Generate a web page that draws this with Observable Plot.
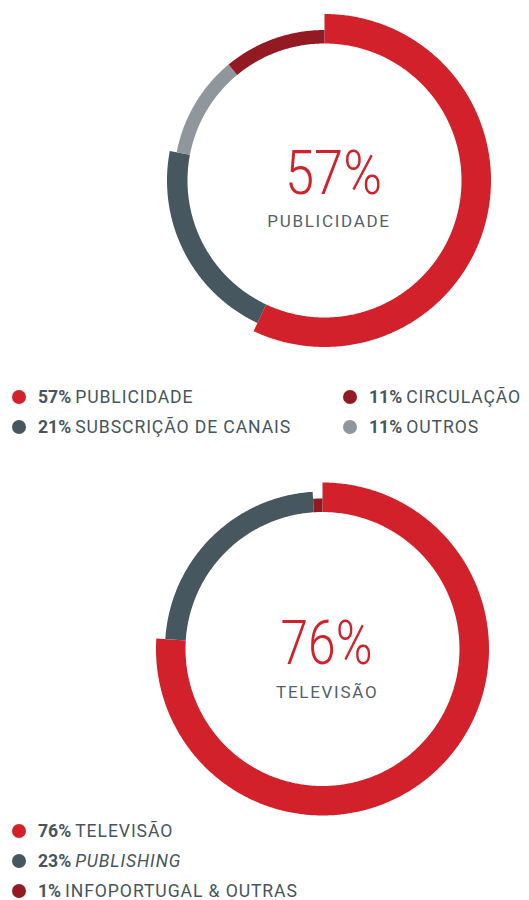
<!DOCTYPE html>
<html><head><meta charset="utf-8">
<script src="https://cdn.jsdelivr.net/npm/d3@7"></script>
<script src="https://cdn.jsdelivr.net/npm/@observablehq/plot@0.6"></script>
<style>
html,body{margin:0;padding:0;background:#fff;}
#root{position:relative;width:529px;height:900px;overflow:hidden;font-family:Roboto,"Noto Sans",sans-serif;}
.chart{position:absolute;left:0;}
.item{position:absolute;display:flex;align-items:center;white-space:nowrap;height:20px;color:#47555d;font-size:17.6px;}
.dot{width:14px;height:14px;border-radius:50%;margin-right:12px;flex:none;}
.item b{font-weight:700;margin-right:4px;}
.item .lbl{letter-spacing:0.9px;}
</style></head><body><div id="root"></div>
<script>
// ---- data ----
const chart1Labels = ["PUBLICIDADE", "SUBSCRIÇÃO DE CANAIS", "OUTROS", "CIRCULAÇÃO"];
const chart1Values = [57, 21, 11, 11];
const chart1Colors = ["#d2212b", "#47575f", "#8f979c", "#931a23"];
const chart1CenterValue = "57%";
const chart1CenterLabel = "PUBLICIDADE";
const legend1Order = ["PUBLICIDADE", "SUBSCRIÇÃO DE CANAIS", "CIRCULAÇÃO", "OUTROS"];

const chart2Labels = ["TELEVISÃO", "PUBLISHING", "INFOPORTUGAL & OUTRAS"];
const chart2Values = [76, 23, 1];
const chart2Colors = ["#d2212b", "#47575f", "#931a23"];
const chart2CenterValue = "76%";
const chart2CenterLabel = "TELEVISÃO";
const legend2Order = ["TELEVISÃO", "PUBLISHING", "INFOPORTUGAL & OUTRAS"];
const italicLabels = ["PUBLISHING"];

// ---- drawing ----
const R_IN = 137;
const R_OUT_TIERS = [166.5, 157.5, 150.5, 150.5];

function ringPoints(labels, values) {
  const total = d3.sum(values);
  const ranked = d3.range(values.length).sort((a, b) => values[b] - values[a]);
  const rank = new Map(ranked.map((i, r) => [i, r]));
  let acc = 0;
  const pts = [];
  labels.forEach((label, i) => {
    const a0 = acc / total * 2 * Math.PI;
    acc += values[i];
    const a1 = acc / total * 2 * Math.PI;
    const n = Math.max(2, Math.ceil((a1 - a0) / (Math.PI / 360)));
    const rOut = R_OUT_TIERS[Math.min(rank.get(i), R_OUT_TIERS.length - 1)];
    for (let k = 0; k <= n; k++) {
      const a = a0 + (a1 - a0) * k / n;
      pts.push({label, xi: Math.sin(a) * R_IN, yi: Math.cos(a) * R_IN, xo: Math.sin(a) * rOut, yo: Math.cos(a) * rOut});
    }
  });
  return pts;
}

function donut({labels, values, colors, centerValue, centerLabel, cx, cy, height, valueDx, labelDx, valueY, labelY, valueLen}) {
  const W = 529;
  const svg = Plot.plot({
    width: W, height,
    margin: 0, marginTop: 0, marginRight: 0, marginBottom: 0, marginLeft: 0,
    x: {domain: [-cx, W - cx], axis: null},
    y: {domain: [-(height - cy), cy], axis: null},
    color: {domain: labels, range: colors},
    style: {background: "transparent"},
    marks: [
      Plot.area(ringPoints(labels, values), {x1: "xi", y1: "yi", x2: "xo", y2: "yo", z: "label", fill: "label", curve: "linear"}),
      Plot.text([centerValue], {x: () => valueDx, y: () => valueY, text: d => d, fill: "#d2212b", fontSize: 62, fontWeight: 300, lineAnchor: "bottom", fontFamily: "Roboto"}),
      Plot.text([centerLabel], {x: () => labelDx, y: () => labelY, text: d => d, fill: "#53616a", fontSize: 17, fontWeight: 400, lineAnchor: "bottom", fontFamily: "Roboto"})
    ]
  });
  svg.querySelectorAll("text").forEach(t => {
    if (t.textContent === centerValue) { t.setAttribute("textLength", valueLen); t.setAttribute("lengthAdjust", "spacingAndGlyphs"); }
    if (t.textContent === centerLabel) { t.style.letterSpacing = "1.7px"; }
  });
  return svg;
}

const root = document.getElementById("root");

const s1 = donut({labels: chart1Labels, values: chart1Values, colors: chart1Colors,
  centerValue: chart1CenterValue, centerLabel: chart1CenterLabel,
  cx: 324.5, cy: 180.5, height: 365, valueDx: 8.5, labelDx: 4, valueY: -12.8, labelY: -46, valueLen: 97});
s1.classList.add("chart"); s1.style.top = "0px";
root.appendChild(s1);

const s2 = donut({labels: chart2Labels, values: chart2Values, colors: chart2Colors,
  centerValue: chart2CenterValue, centerLabel: chart2CenterLabel,
  cx: 322.5, cy: 184, height: 355, valueDx: 3.5, labelDx: 4.2, valueY: -14.3, labelY: -48.3, valueLen: 92});
s2.classList.add("chart"); s2.style.top = "465px";
root.appendChild(s2);

function legendItem(label, value, color, left, cyPx) {
  const el = document.createElement("div");
  el.className = "item";
  el.style.left = left + "px";
  el.style.top = (cyPx - 10) + "px";
  const dot = document.createElement("span"); dot.className = "dot"; dot.style.background = color;
  const b = document.createElement("b"); b.textContent = value + "%";
  const l = document.createElement("span"); l.className = "lbl"; l.textContent = label;
  if (italicLabels.includes(label)) l.style.fontStyle = "italic";
  el.append(dot, b, l);
  root.appendChild(el);
}

// legend 1: two columns, filled column-first
legend1Order.forEach((label, k) => {
  const i = chart1Labels.indexOf(label);
  const col = Math.floor(k / 2), row = k % 2;
  legendItem(label, chart1Values[i], chart1Colors[i], col === 0 ? 12 : 343, 396.7 + row * 30);
});
// legend 2: single column
legend2Order.forEach((label, k) => {
  const i = chart2Labels.indexOf(label);
  legendItem(label, chart2Values[i], chart2Colors[i], 12, 831 + k * 30);
});
</script></body></html>
